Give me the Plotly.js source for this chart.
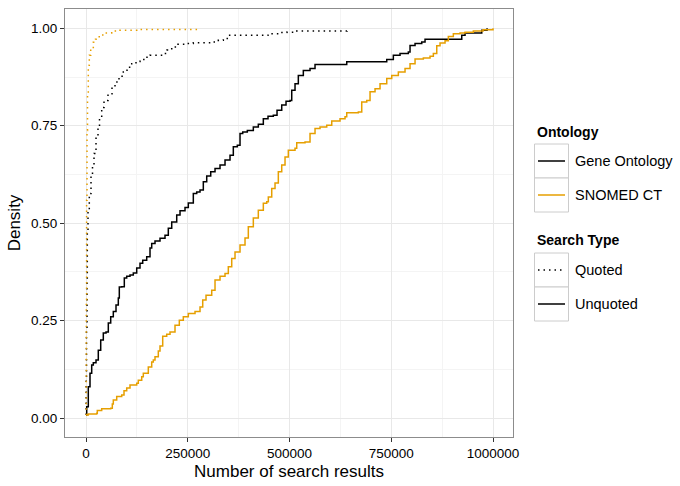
<!DOCTYPE html>
<html>
<head>
<meta charset="utf-8">
<script src="https://cdn.plot.ly/plotly-3.0.1.min.js"></script>
<style>html,body{margin:0;padding:0;background:#fff;}#chart{width:680px;height:486px;}</style>
</head>
<body>
<div id="chart"></div>
<script>
// ECDF step points (number of search results, cumulative density)
var goUnquotedX = [0,1720,5650,9830,14000,17940,24570,30220,36120,42510,49140,54790,60690,67080,73710,79360,81820,87710,94100,100000,108110,116220,124570,132680,139310,149140,157250,161420,169530,181820,194100,202210,210570,222850,230960,243240,251350,263640,271990,280100,288210,296560,306390,316950,329240,341520,353810,361920,371740,378380,385010,396310,411060,423340,435630,447170,460200,469290,480840,491400,501230,505400,513510,521620,533910,550370,562650,640540,738820,755040,771500,791890,796070,808360,824830,832920,923090,931200,972230,985260];
var goUnquotedY = [0.008,0.029,0.080,0.115,0.136,0.142,0.149,0.174,0.200,0.218,0.221,0.244,0.260,0.273,0.290,0.308,0.336,0.337,0.359,0.364,0.367,0.372,0.385,0.397,0.405,0.414,0.436,0.448,0.454,0.461,0.469,0.487,0.503,0.521,0.532,0.540,0.552,0.576,0.580,0.585,0.606,0.621,0.632,0.640,0.649,0.662,0.674,0.696,0.700,0.730,0.734,0.738,0.747,0.754,0.768,0.774,0.777,0.790,0.803,0.813,0.815,0.841,0.858,0.879,0.892,0.897,0.907,0.914,0.920,0.931,0.935,0.939,0.956,0.961,0.965,0.972,0.982,0.988,0.995,1.000];

var snomedUnquotedX = [0,5650,26290,27760,38570,60690,64620,67080,75430,87710,93370,100000,108110,124570,128500,136850,140790,153070,161420,165360,169530,177640,181820,188450,198280,206390,218670,229240,239070,251350,267820,280100,286730,294840,308840,316950,329240,341520,349630,357980,366090,378380,390660,398770,411060,423340,435630,443980,447910,456260,464370,472480,480840,488950,497060,513510,517690,538090,550370,562650,574940,591400,603690,624080,636370,640540,669040,677390,689680,697790,710070,722360,738820,751100,767320,783780,796070,808360,828750,845210,853320,861670,869780,882070,890180,902460,918910,931200,951590,975430,1000000];
var snomedUnquotedY = [0.008,0.010,0.012,0.019,0.024,0.025,0.036,0.046,0.055,0.059,0.070,0.077,0.085,0.089,0.097,0.106,0.115,0.131,0.144,0.149,0.157,0.172,0.185,0.210,0.215,0.221,0.238,0.251,0.260,0.268,0.273,0.285,0.303,0.315,0.328,0.354,0.364,0.371,0.388,0.409,0.426,0.444,0.462,0.491,0.513,0.533,0.551,0.555,0.567,0.589,0.603,0.632,0.649,0.670,0.687,0.692,0.706,0.708,0.730,0.743,0.747,0.751,0.762,0.768,0.773,0.783,0.785,0.811,0.815,0.837,0.845,0.858,0.871,0.879,0.888,0.897,0.909,0.921,0.924,0.928,0.935,0.955,0.962,0.968,0.979,0.986,0.988,0.990,0.993,0.996,1.000];

var goQuotedX = [0,400,1230,2460,3190,4910,8110,12290,15970,19660,24570,29480,33170,38570,44230,54050,63880,71250,81080,91650,100740,112290,122850,132680,144960,157250,189930,199020,210570,226040,243240,263640,312780,325070,337350,349630,447170,476660,493120,517690,641280];
var goQuotedY = [0.008,0.097,0.226,0.354,0.482,0.533,0.576,0.623,0.649,0.679,0.718,0.746,0.769,0.797,0.815,0.832,0.849,0.862,0.877,0.888,0.900,0.909,0.915,0.920,0.926,0.931,0.935,0.944,0.952,0.959,0.961,0.963,0.965,0.969,0.974,0.982,0.986,0.989,0.990,0.993,1.000];

var snomedQuotedX = [0,740,1470,2460,3690,5650,8110,11550,17940,23340,30220,38080,46680,63140,83540,124570,275920];
var snomedQuotedY = [0.008,0.303,0.559,0.738,0.828,0.905,0.931,0.948,0.964,0.972,0.978,0.983,0.988,0.993,0.995,0.997,1.000];

var xTicks = [0, 250000, 500000, 750000, 1000000];
var yTicks = [0, 0.25, 0.5, 0.75, 1];
var ontologyNames = ['Gene Ontology', 'SNOMED CT'];
var searchTypeNames = ['Quoted', 'Unquoted'];

var BLACK = '#000000', ORANGE = '#E69F00';
var FONT = 'Liberation Sans, Arial, Helvetica, sans-serif';

function stepTrace(x, y, color, dash, name) {
  return {x: x, y: y, type: 'scatter', mode: 'lines', name: name,
    line: {color: color, width: 1.5, dash: dash, shape: 'hv'},
    showlegend: false, hoverinfo: 'x+y'};
}
var traces = [
  stepTrace(goUnquotedX, goUnquotedY, BLACK, 'solid', 'Gene Ontology, Unquoted'),
  stepTrace(snomedUnquotedX, snomedUnquotedY, ORANGE, 'solid', 'SNOMED CT, Unquoted'),
  stepTrace(goQuotedX, goQuotedY, BLACK, '1.5px,4px', 'Gene Ontology, Quoted'),
  stepTrace(snomedQuotedX, snomedQuotedY, ORANGE, '1.5px,4px', 'SNOMED CT, Quoted')
];

// legend built with shapes and annotations (pixel -> paper helpers)
var W = 680, H = 486, ML = 65, MR = 167, MT = 9, MB = 49;
var PW = W - ML - MR, PH = H - MT - MB;
function px(x) { return (x - ML) / PW; }
function py(y) { return (H - MB - y) / PH; }

var shapes = [], annotations = [];
function legendTitle(text, yc) {
  annotations.push({xref: 'paper', yref: 'paper', x: px(535), y: py(yc), xanchor: 'left', yanchor: 'middle',
    text: '<b>' + text + '</b>', showarrow: false, font: {family: FONT, size: 14, color: '#000'}});
}
function legendKey(label, top, color, dash) {
  var bot = top + 34, yc = top + 17;
  shapes.push({type: 'rect', xref: 'paper', yref: 'paper', x0: px(534.5), x1: px(568.5), y0: py(top), y1: py(bot),
    line: {color: '#cccccc', width: 1}, fillcolor: '#ffffff', layer: 'above'});
  shapes.push({type: 'line', xref: 'paper', yref: 'paper', x0: px(538), x1: px(565), y0: py(yc), y1: py(yc),
    line: {color: color, width: 1.5, dash: dash}, layer: 'above'});
  annotations.push({xref: 'paper', yref: 'paper', x: px(573), y: py(yc), xanchor: 'left', yanchor: 'middle',
    text: label, showarrow: false, font: {family: FONT, size: 14.5, color: '#000'}});
}
legendTitle('Ontology', 132);
legendKey(ontologyNames[0], 144, BLACK, 'solid');
legendKey(ontologyNames[1], 178, ORANGE, 'solid');
legendTitle('Search Type', 240);
legendKey(searchTypeNames[0], 253, BLACK, '1.5px,4px');
legendKey(searchTypeNames[1], 287, BLACK, 'solid');

var layout = {
  width: W, height: H,
  margin: {l: ML, r: MR, t: MT, b: MB},
  paper_bgcolor: '#ffffff', plot_bgcolor: '#ffffff',
  font: {family: FONT, color: '#000'},
  showlegend: false,
  xaxis: {
    range: [-51600, 1049000], tickmode: 'array', tickvals: xTicks, tickformat: 'd',
    ticks: 'outside', ticklen: 4, tickcolor: '#333333', tickwidth: 1,
    tickfont: {family: FONT, size: 13.5, color: '#000'},
    showgrid: true, gridcolor: '#e8e8e8', gridwidth: 1,
    minor: {tickvals: [125000, 375000, 625000, 875000], showgrid: true, gridcolor: '#f4f4f4', gridwidth: 1},
    zeroline: false, showline: true, mirror: true, linecolor: '#8c8c8c', linewidth: 1,
    title: {text: 'Number of search results', font: {family: FONT, size: 17, color: '#000'}, standoff: 4}
  },
  yaxis: {
    range: [-0.0487, 1.0495], tickmode: 'array', tickvals: yTicks, tickformat: '.2f',
    ticks: 'outside', ticklen: 4, tickcolor: '#333333', tickwidth: 1,
    tickfont: {family: FONT, size: 13.5, color: '#000'},
    showgrid: true, gridcolor: '#e8e8e8', gridwidth: 1,
    minor: {tickvals: [0.125, 0.375, 0.625, 0.875], showgrid: true, gridcolor: '#f4f4f4', gridwidth: 1},
    zeroline: false, showline: true, mirror: true, linecolor: '#8c8c8c', linewidth: 1,
    title: {text: 'Density', font: {family: FONT, size: 17, color: '#000'}, standoff: 6}
  },
  shapes: shapes,
  annotations: annotations
};

Plotly.newPlot('chart', traces, layout, {staticPlot: true, displayModeBar: false});
</script>
</body>
</html>
